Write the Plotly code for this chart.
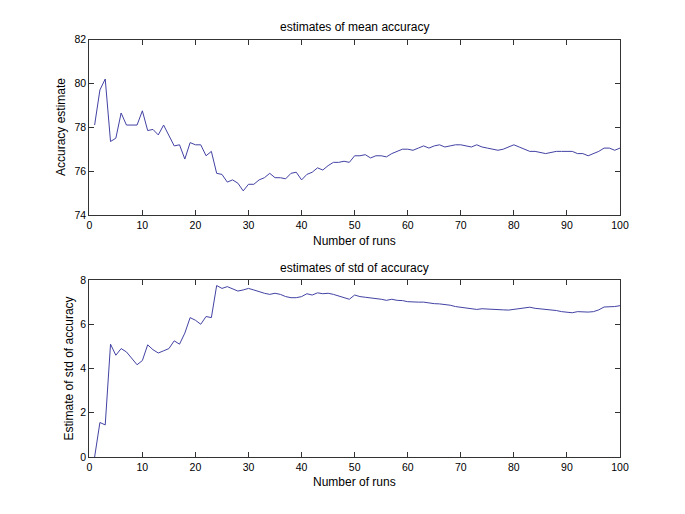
import plotly.graph_objects as go

runs = list(range(1, 101))

mean_acc = [
    78.1, 79.7, 80.2, 77.35, 77.5, 78.65, 78.1, 78.1, 78.1, 78.75,
    77.85, 77.9, 77.65, 78.1, 77.65, 77.15, 77.2, 76.55, 77.3, 77.2,
    77.2, 76.7, 76.9, 75.9, 75.85, 75.5, 75.6, 75.45, 75.1, 75.4,
    75.4, 75.6, 75.7, 75.9, 75.7, 75.7, 75.65, 75.9, 75.95, 75.6,
    75.85, 75.95, 76.15, 76.05, 76.25, 76.4, 76.4, 76.45, 76.4, 76.7,
    76.7, 76.75, 76.6, 76.7, 76.7, 76.65, 76.8, 76.9, 77.0, 77.0,
    76.95, 77.05, 77.15, 77.05, 77.15, 77.2, 77.1, 77.15, 77.2, 77.2,
    77.15, 77.1, 77.2, 77.1, 77.05, 77.0, 76.95, 77.0, 77.1, 77.2,
    77.1, 77.0, 76.9, 76.9, 76.85, 76.8, 76.85, 76.9, 76.9, 76.9,
    76.9, 76.8, 76.8, 76.7, 76.8, 76.9, 77.05, 77.05, 76.95, 77.05,
]

std_acc = [
    0.0, 1.56, 1.45, 5.1, 4.6, 4.9, 4.75, 4.47, 4.17, 4.36,
    5.07, 4.85, 4.7, 4.8, 4.9, 5.25, 5.1, 5.6, 6.3, 6.18,
    6.0, 6.35, 6.3, 7.75, 7.62, 7.7, 7.6, 7.5, 7.55, 7.62,
    7.55, 7.47, 7.4, 7.35, 7.4, 7.35, 7.25, 7.2, 7.2, 7.25,
    7.38, 7.32, 7.42, 7.38, 7.4, 7.35, 7.28, 7.2, 7.13, 7.32,
    7.25, 7.22, 7.2, 7.17, 7.13, 7.08, 7.13, 7.08, 7.07, 7.02,
    7.0, 7.0, 7.0, 6.96, 6.93, 6.92, 6.9, 6.86, 6.8, 6.77,
    6.73, 6.7, 6.67, 6.7, 6.68, 6.67, 6.65, 6.65, 6.64, 6.68,
    6.72, 6.73, 6.77, 6.72, 6.7, 6.68, 6.65, 6.62, 6.57, 6.55,
    6.52, 6.57, 6.55, 6.55, 6.57, 6.65, 6.78, 6.78, 6.8, 6.84,
]

x_ticks = [0, 10, 20, 30, 40, 50, 60, 70, 80, 90, 100]
top_y_ticks = [74, 76, 78, 80, 82]
bot_y_ticks = [0, 2, 4, 6, 8]

# page body has an 8px margin; figure sized to fill the rest of the window
OFF = 8
W, H = 685 - OFF, 514 - OFF

def px(p):
    return (p - OFF) / W

def py(p):
    return 1 - (p - OFF) / H

line_color = "#4242a4"
font = "Liberation Sans, Arial, Helvetica, sans-serif"

fig = go.Figure()
fig.add_trace(go.Scatter(x=runs, y=mean_acc, mode="lines",
                         line=dict(color=line_color, width=1), xaxis="x", yaxis="y",
                         showlegend=False))
fig.add_trace(go.Scatter(x=runs, y=std_acc, mode="lines",
                         line=dict(color=line_color, width=1), xaxis="x2", yaxis="y2",
                         showlegend=False))

xdom = [px(89.3), px(620)]
axis_common = dict(showgrid=False, zeroline=False, showline=True, linecolor="#333333",
                   linewidth=1, mirror="ticks", ticks="inside", ticklen=5,
                   tickcolor="#333333", automargin=False,
                   tickfont=dict(size=10.5, color="black", family=font))

fig.update_layout(
    width=W, height=H,
    paper_bgcolor="white", plot_bgcolor="white",
    margin=dict(l=0, r=0, t=0, b=0, autoexpand=False),
    font=dict(family=font, color="black"),
    xaxis=dict(domain=xdom, range=[0, 100], tickvals=x_ticks, anchor="y", **axis_common),
    yaxis=dict(domain=[py(215), py(39.5)], range=[74, 82], tickvals=top_y_ticks,
               anchor="x", **axis_common),
    xaxis2=dict(domain=xdom, range=[0, 100], tickvals=x_ticks, anchor="y2", **axis_common),
    yaxis2=dict(domain=[py(457), py(280)], range=[0, 8], tickvals=bot_y_ticks,
                anchor="x2", **axis_common),
)

xc = (xdom[0] + xdom[1]) / 2
ann = [
    dict(text="estimates of mean accuracy", x=xc, y=py(27)),
    dict(text="Number of runs", x=xc, y=py(241)),
    dict(text="estimates of std of accuracy", x=xc, y=py(268)),
    dict(text="Number of runs", x=xc, y=py(482)),
    dict(text="Accuracy estimate", x=px(61), y=py(127), textangle=-90),
    dict(text="Estimate of std of accuracy", x=px(68), y=py(368.5), textangle=-90),
]
for a in ann:
    fig.add_annotation(xref="paper", yref="paper", showarrow=False,
                       xanchor="center", yanchor="middle",
                       font=dict(size=12, color="black", family=font), **a)

fig.write_html("out.html")
